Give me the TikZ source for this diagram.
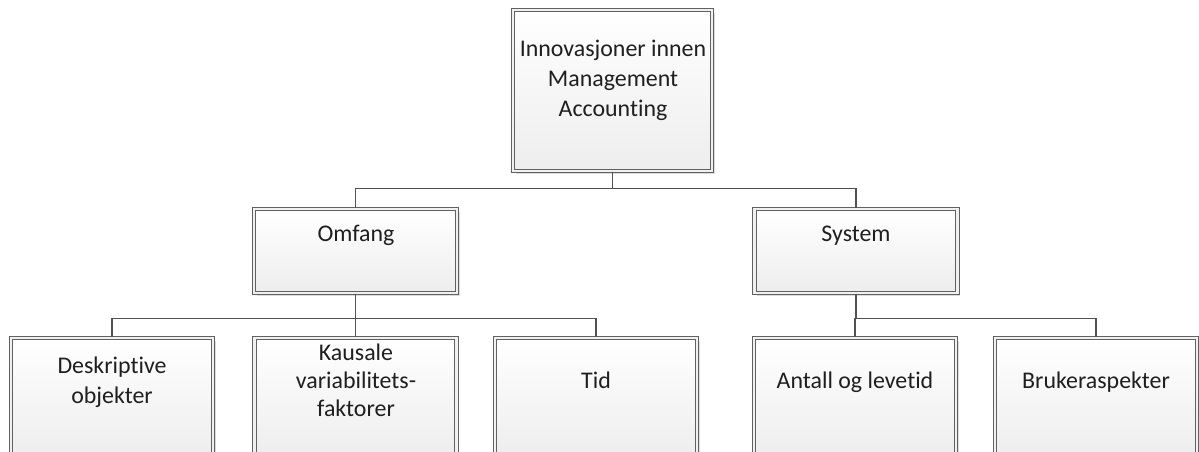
\documentclass[tikz,border=0pt]{standalone}
\usepackage{fontspec}
\setmainfont{Carlito}[Ligatures=CommonOff]
\usepackage{xcolor}
\usetikzlibrary{positioning, shadows}

\begin{document}
\begin{tikzpicture}[
            x=0.02cm, y=-0.02cm,               % one unit = one pixel of the sketch
            box/.style={draw=black!62, line width=0.6pt,
                        double=black!6, double distance=1.2pt,
                        top color=white, bottom color=black!7,
                        drop shadow={shadow xshift=1.6pt, shadow yshift=-1.6pt,
                                     fill=black!30, opacity=0.45}},
            topbox/.style={box, minimum width=3.98cm, minimum height=3.22cm},
            midbox/.style={box, minimum width=4.06cm, minimum height=1.68cm},
            lowbox/.style={box, minimum width=4.04cm, minimum height=2.4cm},
            lbl/.style={font=\fontsize{13.6}{17}\selectfont, text=black!88,
                        align=center, inner sep=0pt},
            link/.style={draw=black!68, line width=0.7pt}
          ]
          \useasboundingbox (0,0) rectangle (1199,452);

          % boxes
          \node[topbox] (inno) at (612.5,90.5) {};
          \node[midbox] (omf)  at (355.5,251) {};
          \node[midbox] (sys)  at (856,251) {};
          \node[lowbox] (desk) at (112,398) {};
          \node[lowbox] (kaus) at (355.5,398) {};
          \node[lowbox] (tid)  at (596,398) {};
          \node[lowbox] (ant)  at (855,398) {};
          \node[lowbox] (bruk) at (1096,398) {};

          % connectors
          \draw[link] (inno.south) -- ++(0,17) -| (omf.north);
          \draw[link] (inno.south) -- ++(0,17) -| (sys.north);
          \draw[link] (omf.south) -- ++(0,25) -| (desk.north);
          \draw[link] (omf) -- (kaus);
          \draw[link] (omf.south) -- ++(0,25) -| (tid.north);
          \draw[link] (sys.south) -- ++(0,25) -| (ant.north);
          \draw[link] (sys.south) -- ++(0,25) -| (bruk.north);

          % texts
          \node[lbl] (innoT) at (613,80)  {Innovasjoner innen\\Management\\Accounting};
          \node[lbl] (omfT)  at (356,235) {Omfang};
          \node[lbl] (sysT)  at (856,236) {System};
          \node[lbl] (deskT) at (112,382) {Deskriptive\\objekter};
          \node[lbl, font=\fontsize{13.6}{16}\selectfont] (kausT) at (356,380) {Kausale\\variabilitets-\\faktorer};
          \node[lbl] (tidT)  at (596,380) {Tid};
          \node[lbl] (antT)  at (855,382) {Antall og levetid};
          \node[lbl] (brukT) at (1096,382) {Brukeraspekter};
        \end{tikzpicture}
\end{document}
